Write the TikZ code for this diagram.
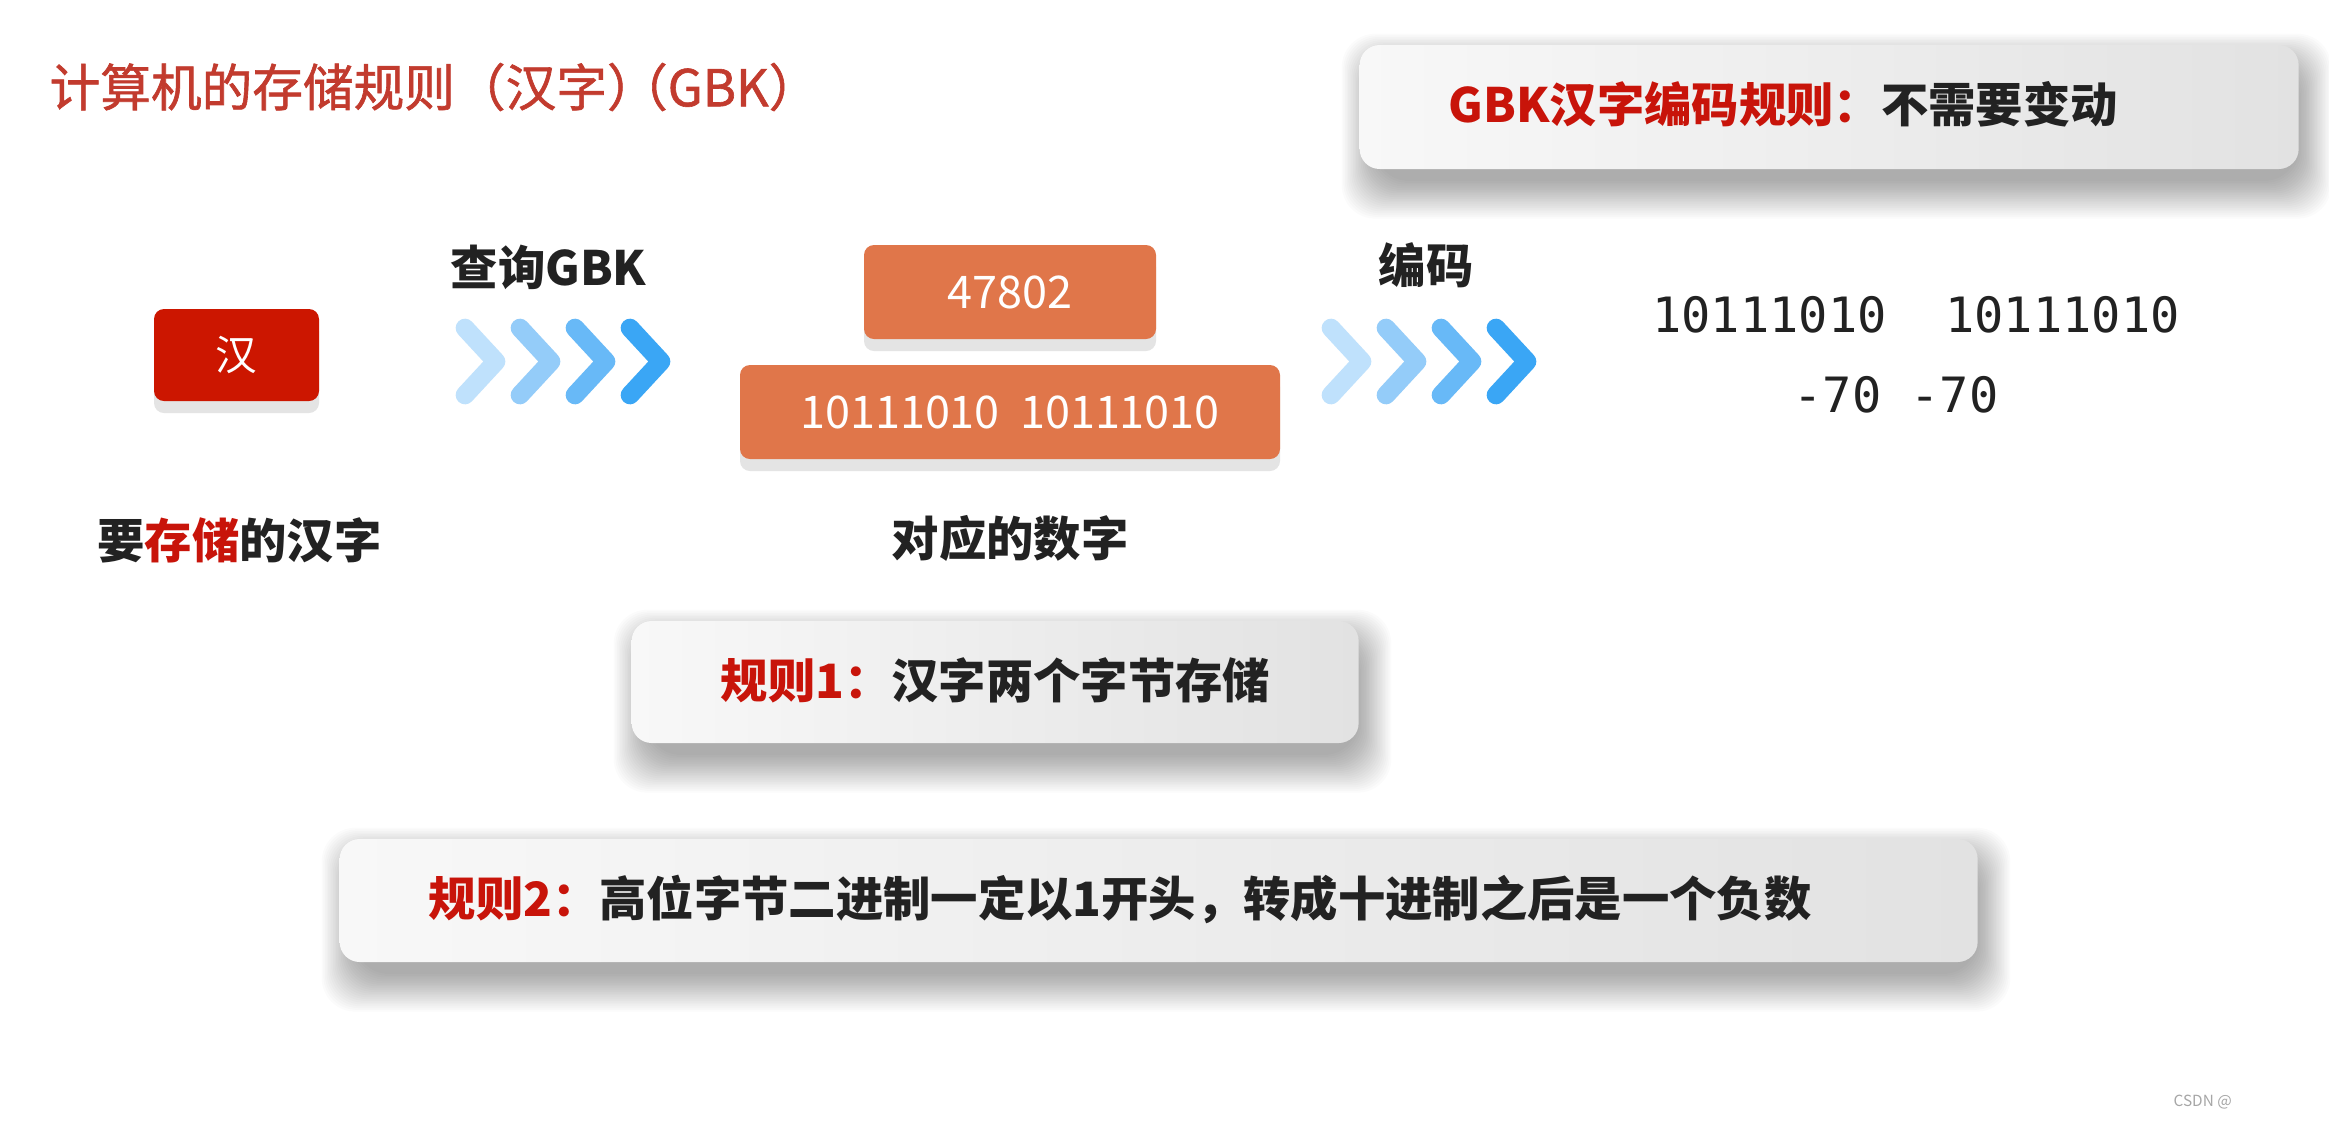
\documentclass[tikz,border=0pt]{standalone}
\usepackage{fontspec}
\setmainfont{Noto Sans CJK SC}
\newfontfamily\titlefont{Noto Sans CJK SC}[RawFeature={embolden=1.2}]
\newfontfamily\monofont{DejaVu Sans Mono}
\definecolor{titlered}{HTML}{C23B2E}
\definecolor{boldred}{HTML}{C8140A}
\definecolor{redbox}{HTML}{CC1600}
\definecolor{orangebox}{HTML}{E0764A}
\definecolor{dark}{HTML}{222222}
\definecolor{boxl}{HTML}{F8F8F8}
\definecolor{boxr}{HTML}{E2E2E2}
\definecolor{flatshadow}{HTML}{E4E4E4}
\definecolor{chA}{HTML}{BFE1FC}
\definecolor{chB}{HTML}{94CCF9}
\definecolor{chC}{HTML}{68B9F7}
\definecolor{chD}{HTML}{3AA6F5}
\newcommand\softshadow[4]{%
  \foreach \k in {1,...,22}{%
    \fill[black, opacity=0.016, rounded corners=10pt] (#1+18-\k*1.6, #2+24-\k*1.6) rectangle (#3-2+\k*1.6, #4+10+\k*1.8);
  }%
}
\begin{document}
\begin{tikzpicture}[x=0.3pt,y=-0.3pt,
  bigtext/.style={font=\fontsize{14.2pt}{17pt}\selectfont\bfseries, text=dark, inner sep=0pt, anchor=west},
  rulebox/.style={rounded corners=6pt, left color=boxl, right color=boxr, draw=none,
     inner sep=0pt, anchor=west},
  colorbox/.style={rounded corners=3pt, draw=none, inner sep=0pt, text=white,
     font=\fontsize{13.5pt}{16pt}\selectfont},
  flatshadowbox/.style={rounded corners=3pt, fill=flatshadow, draw=none},
  chev/.style={line width=5.6pt, line cap=round, line join=round},
  monotext/.style={font=\monofont\fontsize{14.6pt}{17pt}\selectfont, text=dark, inner sep=0pt}
]
\useasboundingbox[fill=white] (0,0) rectangle (2329,1122);

% title
\node[anchor=west, inner sep=0pt, text=titlered, font=\titlefont\fontsize{15.2pt}{18pt}\selectfont] (title) at (49,87) {计算机的存储规则（汉字）\kern-0.8em（GBK）};

% top right rule box
\softshadow{1359}{45}{2298}{169}
\node[rulebox, minimum width=281.7pt, minimum height=37.2pt] (gbkbox) at (1359,107) {};
\node[bigtext] (gbktext) at (1448,104) {\textcolor{boldred}{GBK汉字编码规则：}不需要变动};

% red box
\fill[flatshadowbox] (154,321) rectangle (319,413);
\node[colorbox, fill=redbox, minimum width=49.5pt, minimum height=27.6pt, font=\fontsize{12.5pt}{14pt}\selectfont] (han) at (236.5,355) {汉};
\node[bigtext] (hanlabel) at (97,540) {要\textcolor{boldred}{存储}的汉字};

% query label and chevrons
\node[bigtext] (query) at (450,267) {查询GBK};
\foreach \i/\c in {0/chA,1/chB,2/chC,3/chD}{
  \draw[chev, draw=\c] (465+55*\i,328) -- (496+55*\i,361.5) -- (465+55*\i,395);
}

% orange boxes
\fill[flatshadowbox] (864,257) rectangle (1156,351);
\fill[flatshadowbox] (740,377) rectangle (1280,471);
\node[colorbox, fill=orangebox, minimum width=87.6pt, minimum height=28.2pt] (dec) at (1010,292) {47802};
\node[colorbox, fill=orangebox, minimum width=162pt, minimum height=28.2pt] (bin) at (1010,412) {10111010\ \ 10111010};
\node[bigtext] (numlabel) at (891,538) {对应的数字};

% encode label and chevrons
\node[bigtext] (encode) at (1378,265) {编码};
\foreach \i/\c in {0/chA,1/chB,2/chC,3/chD}{
  \draw[chev, draw=\c] (1331+55*\i,328) -- (1362+55*\i,361.5) -- (1331+55*\i,395);
}

% result
\node[monotext] (resbin) at (1916,315) {10111010\ \ 10111010};
\node[monotext] (resdec) at (1896,395) {-70 -70};

% rule 1
\softshadow{631}{621}{1358}{743}
\node[rulebox, minimum width=218.1pt, minimum height=36.6pt] (rule1box) at (631,682) {};
\node[bigtext] (rule1text) at (720,680) {\textcolor{boldred}{规则1：}汉字两个字节存储};

% rule 2
\softshadow{339}{839}{1977}{962}
\node[rulebox, minimum width=491.4pt, minimum height=36.9pt] (rule2box) at (339,900.5) {};
\node[bigtext] (rule2text) at (428,899) {\textcolor{boldred}{规则2：}高位字节二进制一定以1开头，转成十进制之后是一个负数};

% watermark
\node[anchor=west, inner sep=0pt, text=gray!70, font=\fontsize{4.6pt}{5pt}\selectfont] (wm) at (2173,1102) {CSDN @};
\end{tikzpicture}
\end{document}
